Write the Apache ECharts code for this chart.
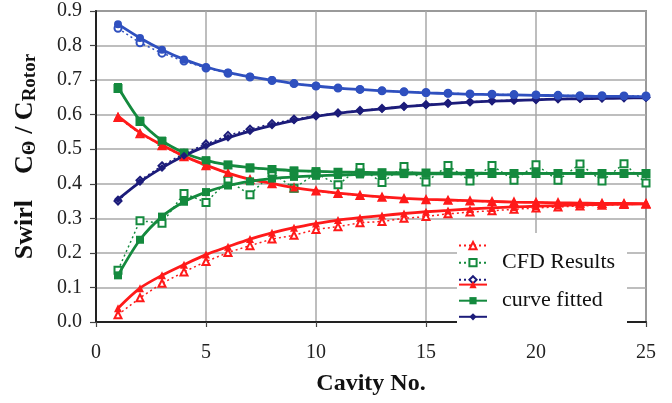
<!DOCTYPE html>
<html>
<head>
<meta charset="utf-8">
<script src="https://cdn.jsdelivr.net/npm/echarts@6/dist/echarts.min.js"></script>
<style>html,body{margin:0;padding:0;background:#fff;}#c{width:672px;height:403px;}</style>
</head>
<body>
<div id="c"></div>
<script>
var cavity = [1,2,3,4,5,6,7,8,9,10,11,12,13,14,15,16,17,18,19,20,21,22,23,24,25];
var xTicks = [0,5,10,15,20,25];
var yTicks = [0.0,0.1,0.2,0.3,0.4,0.5,0.6,0.7,0.8,0.9];

var redFitDec = [0.596,0.548,0.512,0.480,0.454,0.431,0.413,0.401,0.389,0.380,0.373,0.367,0.362,0.358,0.355,0.353,0.351,0.349,0.347,0.346,0.345,0.344,0.343,0.343,0.342];
var redFitInc = [0.040,0.098,0.135,0.166,0.195,0.218,0.240,0.258,0.273,0.285,0.295,0.302,0.308,0.314,0.319,0.323,0.327,0.330,0.333,0.335,0.337,0.339,0.340,0.341,0.342];
var redCfdDec = [0.592,0.545,0.510,0.478,0.452,0.430,0.412,0.400,0.388,0.379,0.372,0.366,0.361,0.357,0.354,0.352,0.350,0.348,0.347,0.346,0.345,0.344,0.343,0.342,0.342];
var redCfdInc = [0.021,0.070,0.112,0.145,0.175,0.201,0.221,0.240,0.251,0.268,0.276,0.287,0.291,0.300,0.305,0.313,0.318,0.322,0.326,0.330,0.333,0.336,0.338,0.340,0.341];

var greenFitDec = [0.680,0.583,0.525,0.490,0.468,0.455,0.447,0.442,0.438,0.436,0.434,0.433,0.432,0.432,0.431,0.431,0.431,0.430,0.430,0.430,0.430,0.430,0.430,0.430,0.430];
var greenFitInc = [0.135,0.238,0.305,0.348,0.376,0.395,0.407,0.415,0.420,0.423,0.425,0.427,0.428,0.428,0.429,0.429,0.429,0.430,0.430,0.430,0.430,0.430,0.430,0.430,0.430];
var greenCfdDec = [0.676,0.580,0.522,0.488,0.466,0.454,0.446,0.441,0.437,0.435,0.433,0.432,0.432,0.431,0.431,0.430,0.430,0.430,0.430,0.430,0.430,0.430,0.430,0.430,0.430];
var greenCfdInc = [0.150,0.293,0.286,0.372,0.346,0.410,0.368,0.432,0.387,0.430,0.397,0.447,0.404,0.450,0.405,0.453,0.408,0.453,0.410,0.455,0.410,0.457,0.408,0.458,0.402];

var blueFitDec = [0.862,0.822,0.788,0.760,0.738,0.722,0.710,0.700,0.690,0.683,0.677,0.673,0.669,0.666,0.663,0.661,0.659,0.658,0.657,0.656,0.655,0.654,0.653,0.653,0.652];
var blueCfdDec = [0.850,0.808,0.778,0.755,0.735,0.720,0.709,0.699,0.690,0.683,0.677,0.673,0.669,0.666,0.664,0.662,0.660,0.659,0.658,0.657,0.656,0.655,0.655,0.654,0.654];
var navyFitInc = [0.355,0.405,0.446,0.481,0.509,0.533,0.552,0.569,0.583,0.595,0.604,0.611,0.617,0.623,0.628,0.632,0.636,0.639,0.641,0.643,0.645,0.646,0.647,0.648,0.649];
var navyCfdInc = [0.350,0.410,0.452,0.488,0.515,0.540,0.558,0.574,0.587,0.597,0.605,0.612,0.618,0.624,0.629,0.633,0.637,0.640,0.642,0.644,0.646,0.647,0.648,0.649,0.650];

var RED = '#ff1a1a', GREEN = '#148a3e', BLUE = '#2f50bf', NAVY = '#1c1c7a';
var FONT = '"Liberation Serif","Times New Roman",serif';

function pairs(ys){ return cavity.map(function(x,i){ return [x, ys[i]]; }); }

function cfd(name, ys, color, symbol){
  return {
    name: name, type: 'line', data: pairs(ys), z: 2,
    symbol: symbol, symbolSize: 7,
    lineStyle: {color: color, width: 1.5, type: [2,3]},
    itemStyle: {color: color, borderColor: color, borderWidth: 1.5},
    emphasis: {disabled: true}
  };
}
function fit(name, ys, color, symbol){
  return {
    name: name, type: 'line', data: pairs(ys), z: 3, smooth: 0.3,
    symbol: symbol, symbolSize: 8,
    lineStyle: {color: color, width: 2.8},
    itemStyle: {color: color},
    emphasis: {disabled: true}
  };
}

var chart = echarts.init(document.getElementById('c'), null, {renderer: 'canvas'});
chart.setOption({
  animation: false,
  backgroundColor: '#fff',
  grid: {left: 96, right: 26, top: 11, bottom: 81, show: true, borderColor: '#444', borderWidth: 1.5},
  xAxis: {
    type: 'value', min: 0, max: 25, interval: 5,
    name: 'Cavity No.', nameLocation: 'middle', nameGap: 50,
    nameTextStyle: {fontFamily: FONT, fontWeight: 'bold', fontSize: 24, color: '#111'},
    axisLine: {show: true, lineStyle: {color: '#222', width: 2}},
    axisTick: {show: true, length: 5, lineStyle: {color: '#444', width: 1.2}},
    splitLine: {show: true, lineStyle: {color: '#a8a8a8', width: 1.5}},
    axisLabel: {fontFamily: FONT, fontSize: 20, color: '#222', margin: 21,
      formatter: function(v){ return xTicks.indexOf(v) >= 0 ? String(v) : ''; }}
  },
  yAxis: {
    type: 'value', min: 0, max: 0.9, interval: 0.1,
    name: '{b|Swirl}{sp|}{b|C}{s|Θ}{b| / C}{s|Rotor}',
    nameLocation: 'middle', nameGap: 56, nameRotate: 90,
    nameTextStyle: {
      fontFamily: FONT, color: '#111', padding: [0,0,0,20],
      rich: {
        b: {fontFamily: FONT, fontWeight: 'bold', fontSize: 26, color: '#111'},
        s: {fontFamily: FONT, fontWeight: 'bold', fontSize: 19, color: '#111', padding: [10,0,0,0]},
        sp: {width: 26}
      }
    },
    axisLine: {show: true, lineStyle: {color: '#222', width: 2}},
    axisTick: {show: true, length: 6, lineStyle: {color: '#444', width: 1.2}},
    splitLine: {show: true, lineStyle: {color: '#a8a8a8', width: 1.5}},
    axisLabel: {fontFamily: FONT, fontSize: 20, color: '#222', margin: 14,
      formatter: function(v){
        var t = yTicks.filter(function(k){ return Math.abs(k - v) < 1e-9; });
        return t.length ? t[0].toFixed(1) : '';
      }}
  },
  legend: [
    {
      data: ['CFD red','CFD green','CFD blue'], orient: 'vertical',
      left: 457, top: 233, itemWidth: 28, itemHeight: 9, itemGap: 1.5,
      backgroundColor: '#fff', padding: [8, 3, 6, 1],
      selectedMode: false,
      formatter: function(n){ return n === 'CFD green' ? 'CFD Results' : ''; },
      textStyle: {fontFamily: FONT, fontSize: 22, color: '#111', lineHeight: 10, padding: [0,0,0,10], width: 122}
    },
    {
      data: ['fit red','fit green','fit blue'], orient: 'vertical',
      left: 457, top: 275, itemWidth: 28, itemHeight: 9, itemGap: 1.5,
      backgroundColor: '#fff', padding: [6, 3, 8, 1],
      selectedMode: false,
      formatter: function(n){ return n === 'fit green' ? 'curve fitted' : ''; },
      textStyle: {fontFamily: FONT, fontSize: 22, color: '#111', lineHeight: 10, padding: [0,0,0,10], width: 122}
    }
  ],
  series: [
    cfd('CFD red', redCfdDec, RED, 'emptyTriangle'),
    cfd('CFD red', redCfdInc, RED, 'emptyTriangle'),
    cfd('CFD green', greenCfdDec, GREEN, 'emptyRect'),
    cfd('CFD green', greenCfdInc, GREEN, 'emptyRect'),
    cfd('CFD blue', navyCfdInc, NAVY, 'emptyDiamond'),
    cfd('CFD blue', blueCfdDec, BLUE, 'emptyCircle'),
    fit('fit red', redFitDec, RED, 'triangle'),
    fit('fit red', redFitInc, RED, 'triangle'),
    fit('fit green', greenFitDec, GREEN, 'rect'),
    fit('fit green', greenFitInc, GREEN, 'rect'),
    fit('fit blue', navyFitInc, NAVY, 'diamond'),
    fit('fit blue', blueFitDec, BLUE, 'circle')
  ]
});
</script>
</body>
</html>
